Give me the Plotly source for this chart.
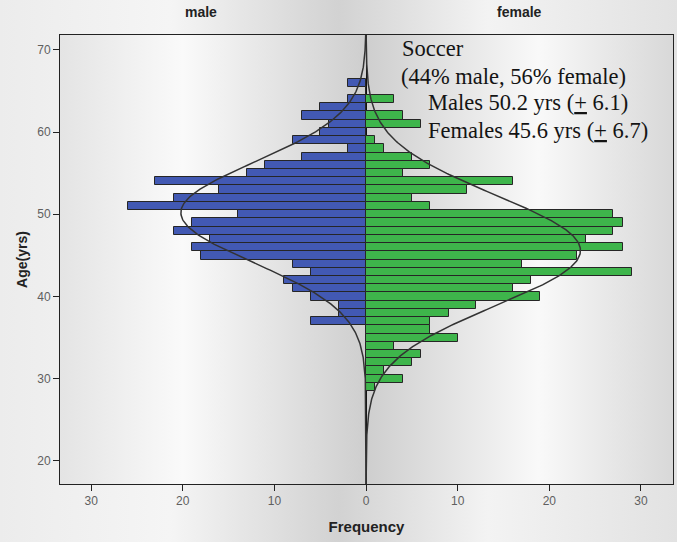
import base64
import numpy as np
import plotly.graph_objects as go

# ---- data ----
ages_male = [66, 65, 64, 63, 62, 61, 60, 59, 58, 57, 56, 55, 54, 53, 52, 51, 50, 49, 48, 47,
             46, 45, 44, 43, 42, 41, 40, 39, 38, 37]
freq_male = [2, 0, 2, 5, 7, 4, 5, 8, 2, 7, 11, 13, 23, 16, 21, 26, 14, 19, 21, 17,
             19, 18, 8, 6, 9, 8, 6, 3, 3, 6]
ages_female = [64, 63, 62, 61, 60, 59, 58, 57, 56, 55, 54, 53, 52, 51, 50, 49, 48, 47, 46, 45,
               44, 43, 42, 41, 40, 39, 38, 37, 36, 35, 34, 33, 32, 31, 30, 29]
freq_female = [3, 0, 4, 6, 0, 1, 2, 5, 7, 4, 16, 11, 5, 7, 27, 28, 27, 24, 28, 23,
               17, 29, 18, 16, 19, 12, 9, 7, 7, 10, 3, 6, 5, 2, 4, 1]
male_mean, male_sd = 50.2, 6.1
female_mean, female_sd = 45.6, 6.7
x_tickvals = [-30, -20, -10, 0, 10, 20, 30]
x_ticktext = ["30", "20", "10", "0", "10", "20", "30"]
y_tickvals = [20, 30, 40, 50, 60, 70]

W, H = 677, 542
L, R, T, B = 60, 4, 35, 58
PW, PH = W - L - R, H - T - B


def svg_grad(stops):
    s = ''.join(f'<stop offset="{o}" stop-color="{c}"/>' for o, c in stops)
    svg = ('<svg xmlns="http://www.w3.org/2000/svg" width="100" height="100" preserveAspectRatio="none">'
           '<defs><linearGradient id="g" x1="0" y1="0" x2="1" y2="0">' + s +
           '</linearGradient></defs><rect width="100" height="100" fill="url(#g)"/></svg>')
    return 'data:image/svg+xml;base64,' + base64.b64encode(svg.encode()).decode()


paper_img = svg_grad([(0, '#ececec'), (0.25, '#f5f5f5'), (0.5, '#d2d2d2'), (0.72, '#f3f3f3'), (1, '#e2e2e2')])
plot_img = svg_grad([(0, '#e4e4e4'), (0.2, '#fafafa'), (0.5, '#cecece'), (0.78, '#f9f9f9'), (1, '#d8d8d8')])

fig = go.Figure()
fig.add_trace(go.Bar(y=ages_male, x=[-v for v in freq_male], orientation='h', width=1,
                     marker=dict(color='#4259b3', line=dict(color='#262626', width=1)),
                     hoverinfo='skip', showlegend=False))
fig.add_trace(go.Bar(y=ages_female, x=freq_female, orientation='h', width=1,
                     marker=dict(color='#3eb54b', line=dict(color='#262626', width=1)),
                     hoverinfo='skip', showlegend=False))

yy = np.linspace(17.2, 71.8, 400)
n_m, n_f = sum(freq_male), sum(freq_female)
pdf_m = n_m * np.exp(-0.5 * ((yy - male_mean) / male_sd) ** 2) / (male_sd * np.sqrt(2 * np.pi))
pdf_f = n_f * np.exp(-0.5 * ((yy - female_mean) / female_sd) ** 2) / (female_sd * np.sqrt(2 * np.pi))
fig.add_trace(go.Scatter(x=-pdf_m, y=yy, mode='lines', line=dict(color='#333333', width=1.5),
                         hoverinfo='skip', showlegend=False))
fig.add_trace(go.Scatter(x=pdf_f, y=yy, mode='lines', line=dict(color='#333333', width=1.5),
                         hoverinfo='skip', showlegend=False))

fig.add_layout_image(source=paper_img, xref='paper', yref='paper', x=-L / PW, y=1 + T / PH,
                     sizex=W / PW, sizey=H / PH, xanchor='left', yanchor='top',
                     sizing='stretch', layer='below')
fig.add_layout_image(source=plot_img, xref='paper', yref='paper', x=0, y=1, sizex=1, sizey=1,
                     xanchor='left', yanchor='top', sizing='stretch', layer='below')

tickfont = dict(family='Liberation Sans, Arial', size=12, color='#5f5f5f')
fig.update_xaxes(range=[-33.4, 33.5], tickvals=x_tickvals, ticktext=x_ticktext,
                 ticks='outside', ticklen=6, tickcolor='#222', tickfont=tickfont,
                 showgrid=False, zeroline=True, zerolinecolor='#111', zerolinewidth=1.3,
                 showline=True, linecolor='#222', linewidth=1, mirror=True,
                 title=dict(text='<b>Frequency</b>', font=dict(family='Liberation Sans, Arial', size=15, color='#222'),
                            standoff=14))
fig.update_yaxes(range=[17.2, 71.8], tickvals=y_tickvals, ticks='outside', ticklen=6, tickcolor='#222',
                 tickfont=tickfont, showgrid=False, zeroline=False,
                 showline=True, linecolor='#222', linewidth=1, mirror=True,
                 title=dict(text='<b>Age(yrs)</b>', font=dict(family='Liberation Sans, Arial', size=14, color='#222'),
                            standoff=6))

lab = dict(family='Liberation Sans, Arial', size=14, color='#222')
fig.add_annotation(text='<b>male</b>', xref='paper', yref='paper', x=(201 - L) / PW, y=1 + (T - 12) / PH,
                   showarrow=False, font=lab, xanchor='center', yanchor='middle')
fig.add_annotation(text='<b>female</b>', xref='paper', yref='paper', x=(519 - L) / PW, y=1 + (T - 12) / PH,
                   showarrow=False, font=lab, xanchor='center', yanchor='middle')

serif = dict(family='Liberation Serif, Times New Roman', size=22.5, color='#141414')
lines = [('Soccer', 400, 48), ('(44% male, 56% female)', 399, 76),
         ('Males 50.2 yrs (<u>+</u> 6.1)', 426, 103), ('Females 45.6 yrs (<u>+</u> 6.7)', 426, 130)]
for txt, px, py in lines:
    fig.add_annotation(text=txt, xref='paper', yref='paper', x=(px - L) / PW, y=1 - (py - T) / PH,
                       showarrow=False, font=serif, xanchor='left', yanchor='middle')

fig.update_layout(width=W, height=H, margin=dict(l=L, r=R, t=T, b=B), barmode='overlay', bargap=0,
                  plot_bgcolor='rgba(0,0,0,0)', paper_bgcolor='#e8e8e8')
fig.write_html('out.html', post_script="document.body.style.margin='0';",
               config={'displayModeBar': False})
